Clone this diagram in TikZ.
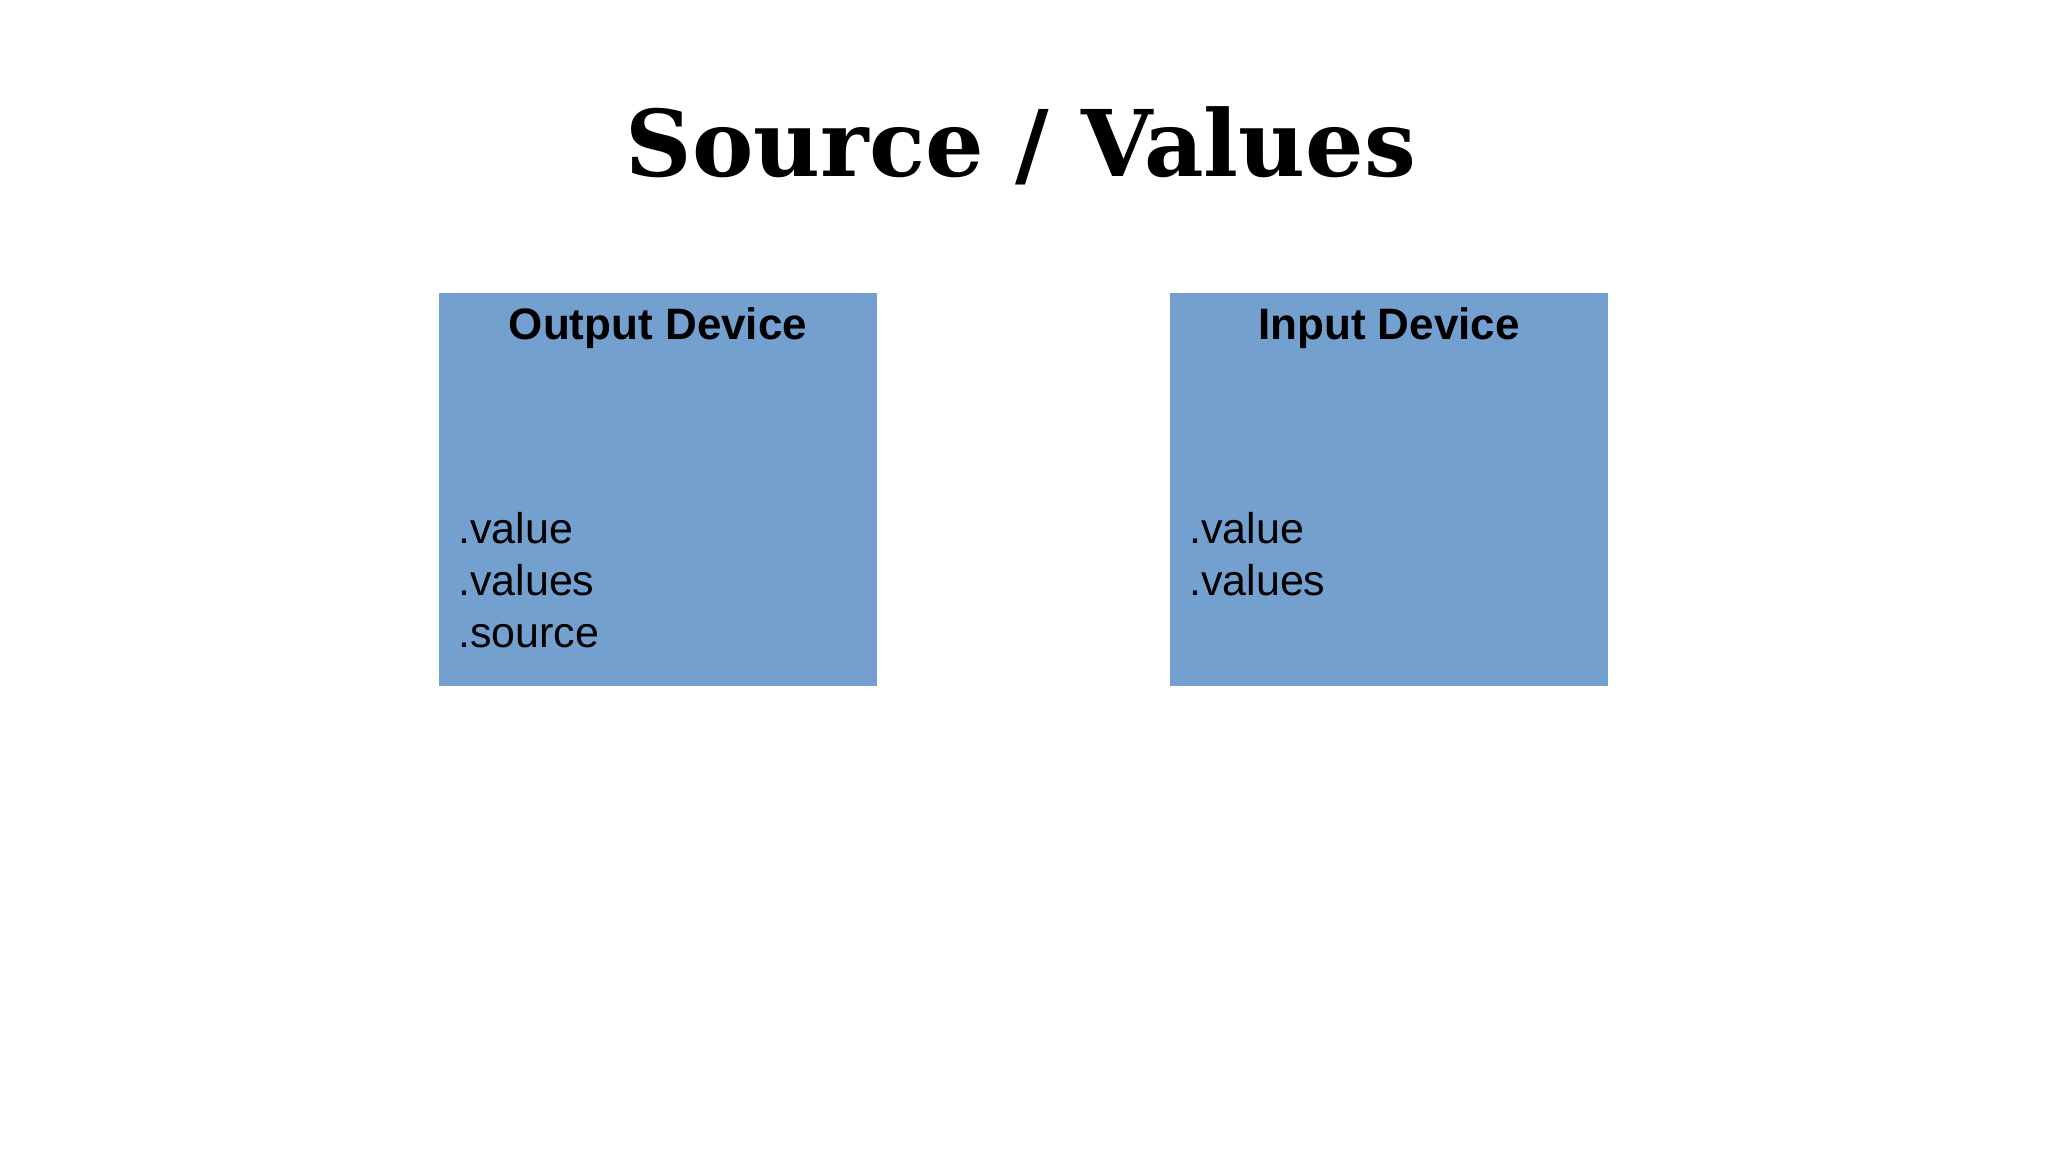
\documentclass[tikz,border=0pt]{standalone}
\usepackage{fontspec}
\setmainfont{Liberation Sans}
\newfontfamily\titlefont{DejaVu Serif}
\definecolor{boxblue}{HTML}{74A0D0}
\begin{document}
\begin{tikzpicture}[x=1pt,y=-1pt,
  devbox/.style={fill=boxblue,draw=none},
  head/.style={font=\fontsize{44}{50}\selectfont\bfseries,anchor=center},
  body/.style={font=\fontsize{43}{52}\selectfont,anchor=north west,align=left,inner sep=0pt}]
\useasboundingbox (0,0) rectangle (2048,1150);
\node[font=\titlefont\fontsize{92}{100}\selectfont\bfseries] (title) at (1021,146) {Source / Values};
\fill[devbox] (439,293) rectangle (877,686);
\fill[devbox] (1170,293) rectangle (1608,686);
\node[head] (oh) at (658,328) {Output Device};
\node[head] (ih) at (1389,328) {Input Device};
\node[body] (ob) at (458,512) {.value\\.values\\.source};
\node[body] (ib) at (1189,512) {.value\\.values};
\end{tikzpicture}
\end{document}
